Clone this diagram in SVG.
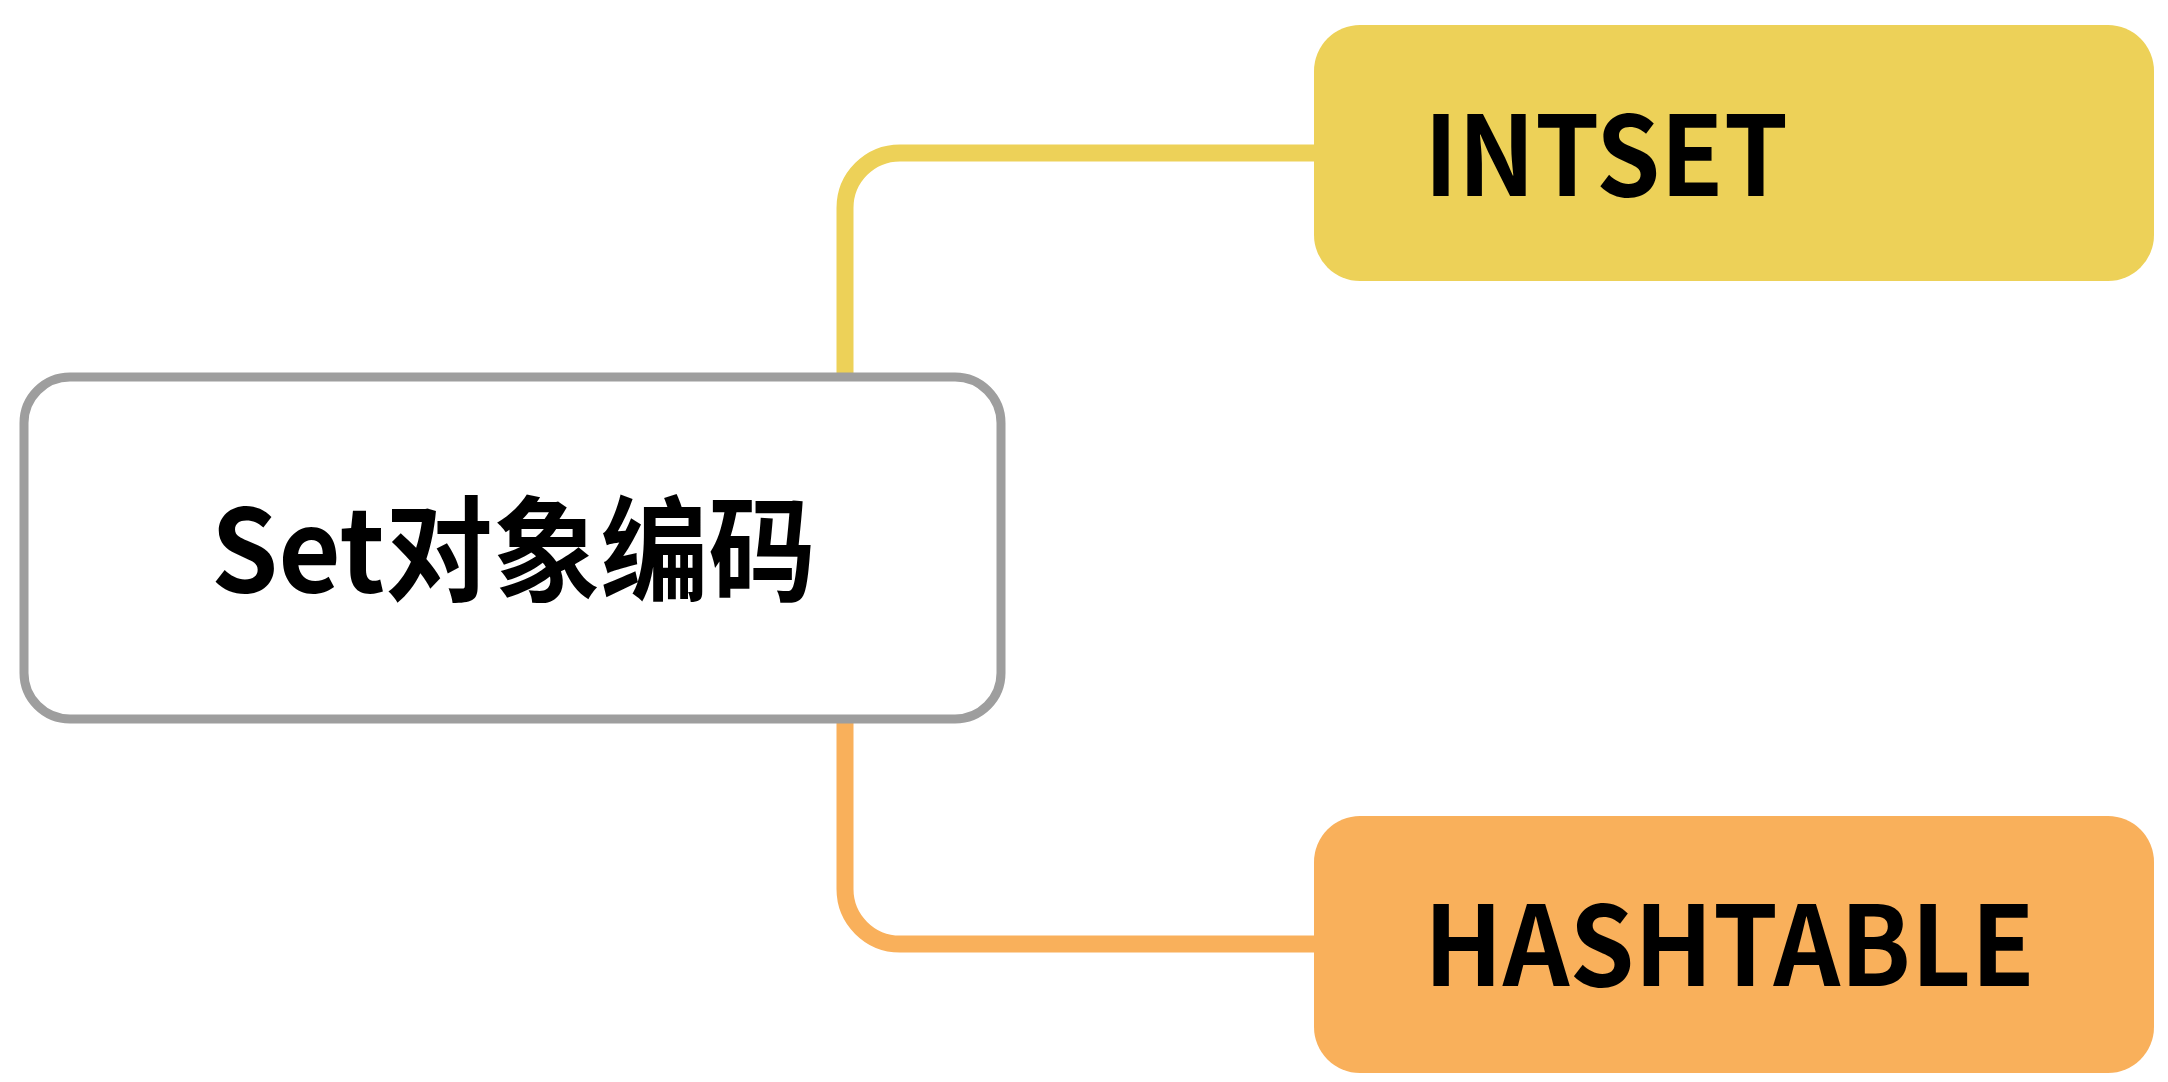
<svg xmlns="http://www.w3.org/2000/svg" width="2168" height="1082" viewBox="0 0 2168 1082">
<style>
.conn{fill:none;stroke-width:17}
.lbl{font-family:"Noto Sans CJK SC","Noto Sans",sans-serif;font-weight:700;font-size:110px;fill:#000}
.cjk{font-family:"Noto Sans CJK SC","Noto Sans",sans-serif;font-weight:700;font-size:114px;fill:#000}
</style>
<rect width="2168" height="1082" fill="#fff"/>
<g id="connectors">
<path class="conn" stroke="#EDD158" d="M845 376 V208 A55 55 0 0 1 900 153 H1320"/>
<path class="conn" stroke="#F9B05B" d="M845 720 V889 A55 55 0 0 0 900 944 H1320"/>
</g>
<g id="root">
<rect x="24" y="377" width="977" height="342" rx="46" fill="#fff" stroke="#9E9E9E" stroke-width="9"/>
<text class="cjk" x="211" y="592" textLength="605" lengthAdjust="spacingAndGlyphs">Set对象编码</text>
</g>
<g id="intset">
<rect x="1314" y="25" width="840" height="256" rx="46" fill="#EDD158"/>
<text class="lbl" x="1424" y="196" textLength="364" lengthAdjust="spacingAndGlyphs">INTSET</text>
</g>
<g id="hashtable">
<rect x="1314" y="816" width="840" height="257" rx="46" fill="#F9B05B"/>
<text class="lbl" x="1424" y="986" textLength="611" lengthAdjust="spacingAndGlyphs">HASHTABLE</text>
</g>
</svg>
